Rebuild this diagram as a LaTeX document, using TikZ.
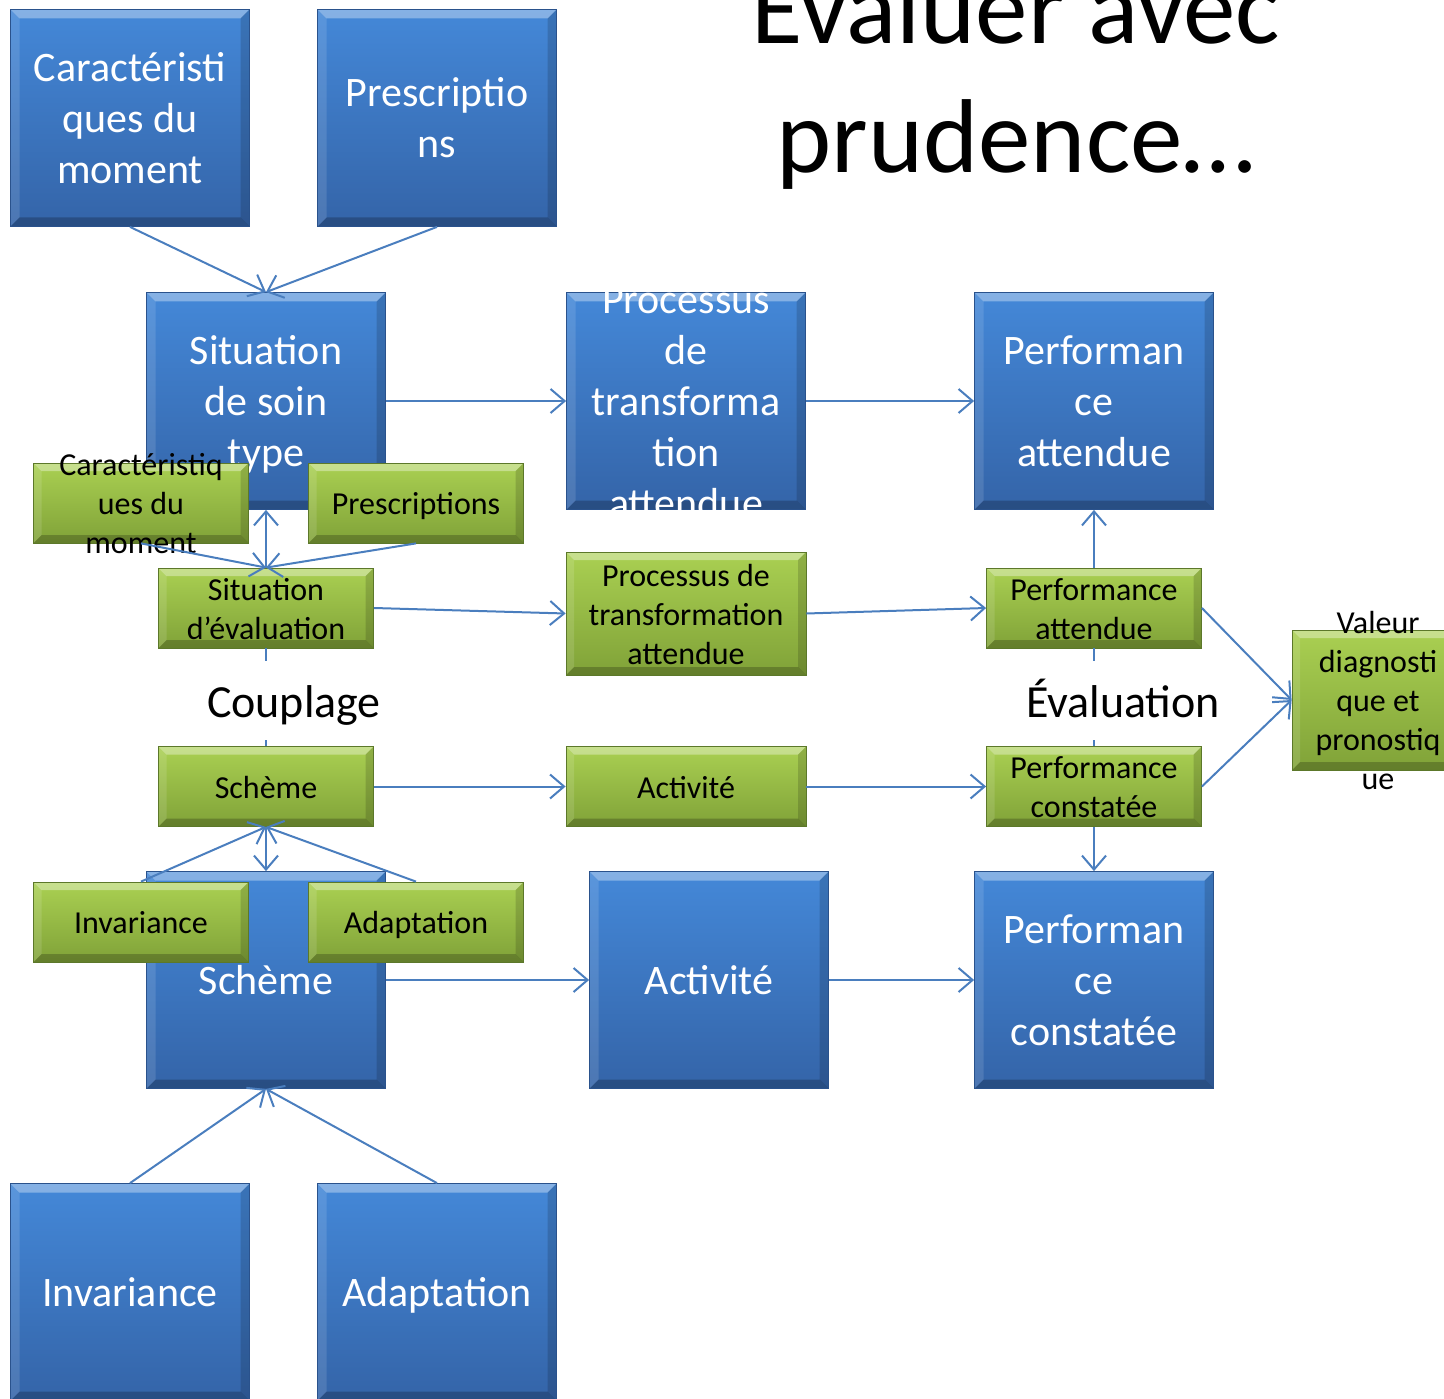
\documentclass[tikz,border=0pt]{standalone}
\usepackage{fontspec}
\setmainfont{Carlito}
\usetikzlibrary{arrows.meta}
\definecolor{bluetop}{RGB}{68,136,216}
\definecolor{bluebot}{RGB}{52,100,168}
\definecolor{blueedge}{RGB}{42,82,140}
\definecolor{greentop}{RGB}{170,208,82}
\definecolor{greenbot}{RGB}{128,162,56}
\definecolor{greenedge}{RGB}{92,120,42}
\definecolor{conncol}{RGB}{74,126,190}
\newcommand\mybevel[1]{%
 \fill[white,opacity=.35] (path picture bounding box.north west) -- (path picture bounding box.north east) -- ([xshift=-#1,yshift=-#1]path picture bounding box.north east) -- ([xshift=#1,yshift=-#1]path picture bounding box.north west) -- cycle;
 \fill[black,opacity=.15] (path picture bounding box.north east) -- (path picture bounding box.south east) -- ([xshift=-#1,yshift=#1]path picture bounding box.south east) -- ([xshift=-#1,yshift=-#1]path picture bounding box.north east) -- cycle;
 \fill[black,opacity=.22] (path picture bounding box.south east) -- (path picture bounding box.south west) -- ([xshift=#1,yshift=#1]path picture bounding box.south west) -- ([xshift=-#1,yshift=#1]path picture bounding box.south east) -- cycle;
 \fill[white,opacity=.12] (path picture bounding box.south west) -- (path picture bounding box.north west) -- ([xshift=#1,yshift=-#1]path picture bounding box.north west) -- ([xshift=#1,yshift=#1]path picture bounding box.south west) -- cycle;}
\begin{document}
\begin{tikzpicture}[x=1pt,y=-1pt,
 conn/.style={draw=conncol, line width=2pt, -{Straight Barb[length=14pt,width=24pt]}},
 connline/.style={draw=conncol, line width=2pt},
 bbox/.style={rectangle, inner sep=0pt, minimum width=239pt, minimum height=217pt, top color=bluetop, bottom color=bluebot, draw=blueedge, line width=0.8pt, path picture={\mybevel{9pt}}},
 gbox/.style={rectangle, inner sep=0pt, minimum width=215pt, minimum height=80pt, top color=greentop, bottom color=greenbot, draw=greenedge, line width=0.8pt, path picture={\mybevel{8pt}}},
 btext/.style={inner sep=0pt, yshift=-4pt, align=center, text=white, font=\fontsize{42}{51}\selectfont},
 gtext/.style={inner sep=0pt, yshift=-4pt, align=center, text=black, font=\fontsize{32}{39}\selectfont},
 lbl/.style={inner sep=0pt, fill=white, text=black, anchor=base, text height=56pt, text depth=23pt, font=\fontsize{46}{56}\selectfont},
]
\useasboundingbox (0,0) rectangle (1444,1399);
\clip (0,0) rectangle (1444,1399);

% title
\node[inner sep=0pt, align=center, font=\fontsize{105}{129}\selectfont] (title) at (1016,82.7) {\strut Évaluer avec\\prudence…\strut};

% blue boxes
\node[bbox] (B1) at (130,118) {};
\node[btext] (B1t) at (B1.center) {\strut Caractéristi\\ques du\\moment\strut};
\node[bbox] (B2) at (437,118) {};
\node[btext] (B2t) at (B2.center) {\strut Prescriptio\\ns\strut};
\node[bbox] (B3) at (266,401) {};
\node[btext] (B3t) at (B3.center) {\strut Situation\\de soin\\type\strut};
\node[bbox] (B4) at (686,401) {};
\node[btext] (B4t) at (B4.center) {\strut Processus\\de\\transforma\\tion\\attendue\strut};
\node[bbox] (B5) at (1094,401) {};
\node[btext] (B5t) at (B5.center) {\strut Performan\\ce\\attendue\strut};
\node[bbox] (B6) at (266,980) {};
\node[btext] (B6t) at (B6.center) {\strut Schème\strut};
\node[bbox] (B7) at (709,980) {};
\node[btext] (B7t) at (B7.center) {\strut Activité\strut};
\node[bbox] (B8) at (1094,980) {};
\node[btext] (B8t) at (B8.center) {\strut Performan\\ce\\constatée\strut};
\node[bbox] (B9) at (130,1292) {};
\node[btext] (B9t) at (B9.center) {\strut Invariance\strut};
\node[bbox] (B10) at (437,1292) {};
\node[btext] (B10t) at (B10.center) {\strut Adaptation\strut};

% green boxes
\node[gbox] (G1) at (141,503) {};
\node[gtext] (G1t) at (G1.center) {\strut Caractéristiq\\ues du\\moment\strut};
\node[gbox] (G2) at (416,503) {};
\node[gtext] (G2t) at (G2.center) {\strut Prescriptions\strut};
\node[gbox] (G3) at (266,608) {};
\node[gtext] (G3t) at (G3.center) {\strut Situation\\d’évaluation\strut};
\node[gbox, minimum width=240pt, minimum height=123pt] (G4) at (686,613.5) {};
\node[gtext] (G4t) at (G4.center) {\strut Processus de\\transformation\\attendue\strut};
\node[gbox] (G5) at (1094,608) {};
\node[gtext] (G5t) at (G5.center) {\strut Performance\\attendue\strut};
\node[gbox] (G6) at (266,786.5) {};
\node[gtext] (G6t) at (G6.center) {\strut Schème\strut};
\node[gbox, minimum width=240pt] (G7) at (686,786.5) {};
\node[gtext] (G7t) at (G7.center) {\strut Activité\strut};
\node[gbox] (G8) at (1094,786.5) {};
\node[gtext] (G8t) at (G8.center) {\strut Performance\\constatée\strut};
\node[gbox, minimum width=172pt, minimum height=140pt] (G9) at (1378,700) {};
\node[gtext] (G9t) at (G9.center) {\strut Valeur\\diagnosti\\que et\\pronostiq\\ue\strut};
\node[gbox] (G10) at (141,922) {};
\node[gtext] (G10t) at (G10.center) {\strut Invariance\strut};
\node[gbox] (G11) at (416,922) {};
\node[gtext] (G11t) at (G11.center) {\strut Adaptation\strut};

% connectors
\draw[conn] (B1.south) -- (B3.north);
\draw[conn] (B2.south) -- (B3.north);
\draw[conn] (B3.east) -- (B4.west);
\draw[conn] (B4.east) -- (B5.west);
\draw[conn] (G3.north) -- (B3.south);
\draw[conn] (G1.south) -- (G3.north);
\draw[conn] (G2.south) -- (G3.north);
\draw[conn] (G3.east) -- (G4.west);
\draw[conn] (G4.east) -- (G5.west);
\draw[conn] (G5.north) -- (B5.south);
\draw[conn] (G5.east) -- (G9.west);
\draw[conn] (G8.east) -- (G9.west);
\draw[conn] (G6.east) -- (G7.west);
\draw[conn] (G7.east) -- (G8.west);
\draw[conn] (G8.south) -- (B8.north);
\draw[conn] (G6.south) -- (B6.north);
\draw[conn] (G10.north) -- (G6.south);
\draw[conn] (G11.north) -- (G6.south);
\draw[conn] (B6.east) -- (B7.west);
\draw[conn] (B7.east) -- (B8.west);
\draw[conn] (B9.north) -- (B6.south);
\draw[conn] (B10.north) -- (B6.south);
\draw[connline] (G3.south) -- (G6.north);
\draw[connline] (G5.south) -- (G8.north);

% labels
\node[lbl] (coupl) at (294,717) {Couplage};
\node[lbl] (evalu) at (1123,717) {Évaluation};
\end{tikzpicture}
\end{document}
